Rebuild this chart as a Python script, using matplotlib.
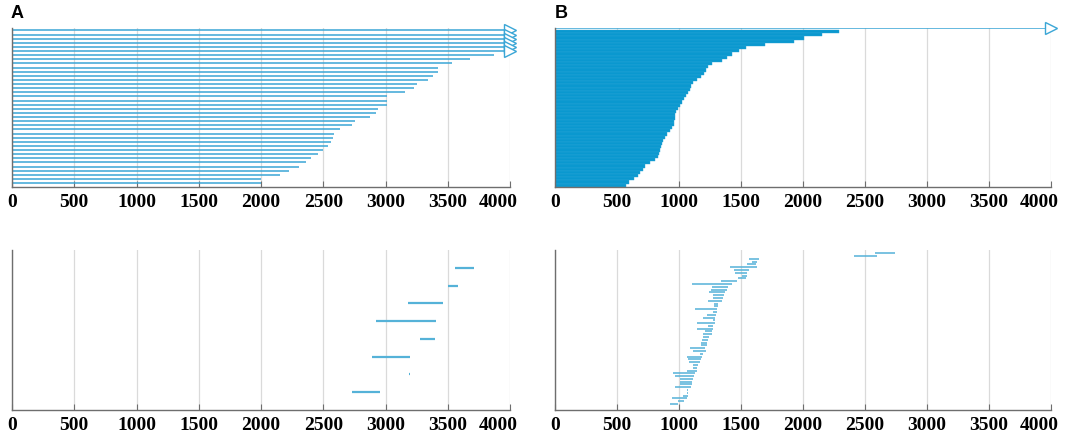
import numpy as np
import matplotlib.pyplot as plt
from matplotlib.transforms import ScaledTranslation

# panel A top: bar ends, top row first; the first 6 run past 4000 (arrow)
a_top_arrows = 6
a_top_end = [4000, 4000, 4000, 4000, 4000, 4000,
             3870, 3680, 3530, 3425, 3425, 3385, 3340, 3250, 3230, 3155,
             3010, 3010, 3010, 2940, 2925, 2873, 2754, 2732, 2631, 2590,
             2577, 2563, 2541, 2495, 2454, 2400, 2359, 2305, 2226, 2155,
             1997, 1997]

# panel A bottom: segments, top row first
a_bot_start = [3561, 3505, 3179, 2925, 3278, 2890, 3185, 2730]
a_bot_end = [3708, 3580, 3465, 3406, 3398, 3200, 3195, 2955]

# panel B top: first row runs past 4000 (arrow), rest filled
b_top_arrow_end = 4000
b_top_end = [2290, 2150, 2010, 1930, 1690, 1540, 1485, 1430, 1385, 1345,
             1270, 1235, 1215, 1200, 1175, 1145, 1115, 1098, 1085, 1073,
             1058, 1042, 1022, 1008, 990, 975, 970, 965, 961, 957,
             943, 926, 904, 887, 875, 864, 855, 847, 841, 833,
             805, 765, 730, 706, 687, 670, 640, 600, 572]

# panel B bottom: segments, top row first
b_bot_start = [2580, 2410, 1567, 1586, 1551, 1411, 1446, 1452, 1505, 1473,
               1336, 1102, 1263, 1255, 1244, 1272, 1277, 1237, 1282, 1282,
               1129, 1277, 1228, 1197, 1277, 1142, 1237, 1142, 1210, 1197,
               1191, 1188, 1175, 1178, 1089, 1115, 1169, 1067, 1075, 1083,
               1115, 1115, 1062, 954, 968, 1008, 1008, 1008, 968, 1062,
               1062, 1035, 941, 990, 927]
b_bot_end = [2740, 2600, 1648, 1626, 1621, 1626, 1565, 1551, 1551, 1540,
             1465, 1425, 1398, 1390, 1371, 1366, 1357, 1349, 1317, 1317,
             1304, 1304, 1298, 1290, 1290, 1290, 1277, 1277, 1269, 1263,
             1245, 1237, 1228, 1223, 1210, 1221, 1196, 1183, 1175, 1169,
             1156, 1142, 1142, 1129, 1121, 1115, 1102, 1102, 1094, 1075,
             1070, 1075, 1062, 1040, 995]

xticks = [0, 500, 1000, 1500, 2000, 2500, 3000, 3500, 4000]

line_c = '#3aa6d6'
fill_c = '#0a98cf'
seg_c = '#55b2d8'
spine_c = '#6e6e6e'

fig = plt.figure(figsize=(10.72, 4.34), dpi=100)
ax_at = fig.add_axes([0.0112, 0.5698, 0.4646, 0.3657])
ax_bt = fig.add_axes([0.5177, 0.5698, 0.4627, 0.3657])
ax_ab = fig.add_axes([0.0112, 0.0553, 0.4646, 0.3687])
ax_bb = fig.add_axes([0.5177, 0.0553, 0.4627, 0.3687])


def style(ax):
    ax.set_xlim(0, 4000)
    ax.set_xticks(xticks)
    ax.set_xticklabels([str(t) for t in xticks], fontfamily='Liberation Serif',
                       fontweight='bold', fontsize=14)
    ax.set_yticks([])
    ax.tick_params(axis='x', direction='in', length=4, color=spine_c, pad=5)
    for s in ['top', 'right']:
        ax.spines[s].set_visible(False)
    for s in ['left', 'bottom']:
        ax.spines[s].set_color(spine_c)
        ax.spines[s].set_linewidth(1.0)
    ax.grid(axis='x', color='#dadada', linewidth=0.9)
    ax.set_axisbelow(True)
    # last label sits a bit left of its tick, as in the original
    last = ax.get_xticklabels()[-1]
    last.set_transform(last.get_transform() +
                       ScaledTranslation(-0.12, 0, fig.dpi_scale_trans))


# A top
n = len(a_top_end)
ya = np.arange(n)[::-1]
ax_at.hlines(ya, 0, a_top_end, color=line_c, linewidth=1.1)
ax_at.plot(a_top_end[:a_top_arrows], ya[:a_top_arrows], linestyle='none',
           marker='>', markersize=8.5, markerfacecolor='white',
           markeredgecolor=line_c, markeredgewidth=1.0, clip_on=False, zorder=3)
ax_at.set_ylim(-0.9, n - 0.4)
style(ax_at)

# A bottom
n = len(a_bot_start)
yb = np.arange(1, n + 1)[::-1]
ax_ab.hlines(yb, a_bot_start, a_bot_end, color=seg_c, linewidth=1.6)
ax_ab.set_ylim(0, n + 1)
style(ax_ab)

# B top
n = len(b_top_end)
yc = np.arange(n)[::-1]
ax_bt.barh(yc, b_top_end, height=1.0, color=fill_c, edgecolor='#2aa4d6',
           linewidth=0.3)
ax_bt.hlines(n, 0, b_top_arrow_end, color=line_c, linewidth=1.1)
ax_bt.plot([b_top_arrow_end], [n], linestyle='none', marker='>', markersize=9,
           markerfacecolor='white', markeredgecolor=line_c,
           markeredgewidth=1.0, clip_on=False, zorder=3)
ax_bt.set_ylim(-0.5, n + 0.1)
style(ax_bt)

# B bottom
n = len(b_bot_start)
yd = np.arange(n)[::-1]
ax_bb.hlines(yd, b_bot_start, b_bot_end, color=seg_c, linewidth=1.1)
ax_bb.set_ylim(-2.15, n - 1 + 1.2)
style(ax_bb)

fig.text(0.0103, 0.988, 'A', fontfamily='Liberation Sans', fontweight='bold',
         fontsize=13, va='top', ha='left')
fig.text(0.5175, 0.988, 'B', fontfamily='Liberation Sans', fontweight='bold',
         fontsize=13, va='top', ha='left')

fig.savefig('out.png', dpi=100)
